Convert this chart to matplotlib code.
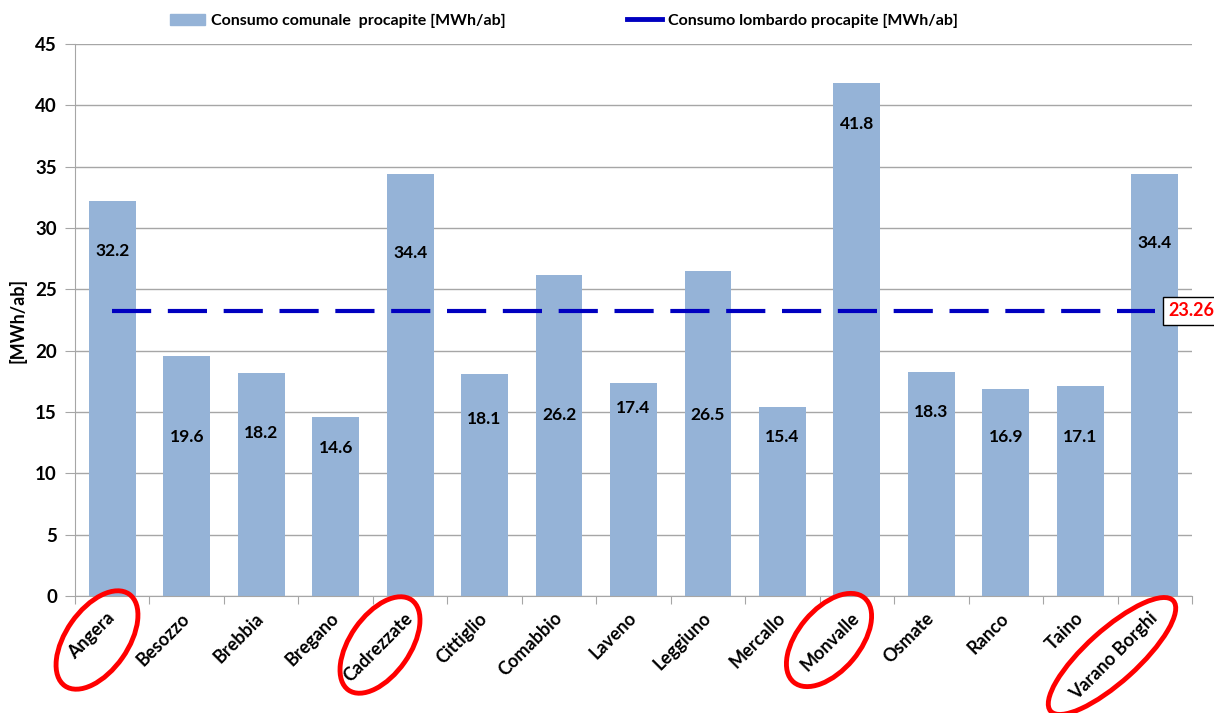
import matplotlib.pyplot as plt
from matplotlib.patches import Ellipse, Patch
from matplotlib.lines import Line2D

plt.rcParams['font.family'] = ['Lato', 'DejaVu Sans']
plt.rcParams['font.weight'] = 'bold'

# Data
comuni = ['Angera', 'Besozzo', 'Brebbia', 'Bregano', 'Cadrezzate', 'Cittiglio',
          'Comabbio', 'Laveno', 'Leggiuno', 'Mercallo', 'Monvalle', 'Osmate',
          'Ranco', 'Taino', 'Varano Borghi']
consumo = [32.2, 19.6, 18.2, 14.6, 34.4, 18.1, 26.2, 17.4, 26.5, 15.4, 41.8,
           18.3, 16.9, 17.1, 34.4]
lombardia = 23.26
# heights where the value labels sit inside the bars
label_y = [28.1, 13.0, 13.3, 12.1, 28.0, 14.4, 14.75, 15.3, 14.75, 13.0, 38.5,
           15.0, 13.0, 13.0, 28.8]
evidenziati = ['Angera', 'Cadrezzate', 'Monvalle', 'Varano Borghi']

bar_color = '#95B3D7'
line_color = '#0000C0'
grid_color = '#A6A6A6'

fig = plt.figure(figsize=(12.14, 7.13), dpi=100)
ax = fig.add_axes([75 / 1214, 1 - 596 / 713, (1192 - 75) / 1214, (596 - 44) / 713])

x = list(range(len(comuni)))
ax.bar(x, consumo, width=0.63, color=bar_color, zorder=2)
ax.plot(x, [lombardia] * len(x), color=line_color, lw=3,
        linestyle=(0, (9.4, 4)), solid_capstyle='butt', zorder=3)

for xi, v, ly in zip(x, consumo, label_y):
    ax.text(xi, ly, f'{v:.1f}', ha='center', va='center', fontsize=12.5,
            fontweight='bold', color='black', zorder=4)

ax.annotate(f'{lombardia:.2f}', xy=(x[-1], lombardia), xytext=(14, 0),
            textcoords='offset pixels', ha='left', va='center', color='red',
            fontsize=13, fontweight='bold', annotation_clip=False,
            bbox=dict(boxstyle='square,pad=0.3', fc='white', ec='black', lw=1))

ax.set_xlim(-0.5, len(comuni) - 0.5)
ax.set_ylim(0, 45)
ax.set_yticks(range(0, 46, 5))
ax.tick_params(axis='y', labelsize=13.5, length=7, color=grid_color, pad=6)
ax.yaxis.grid(True, color=grid_color, lw=1, zorder=0)
ax.set_axisbelow(True)

# ticks between categories, labels at the centres
ax.set_xticks([i - 0.5 for i in range(len(comuni) + 1)])
ax.set_xticklabels([])
ax.tick_params(axis='x', which='major', length=6, color=grid_color)
ax.set_xticks(x, minor=True)
ax.set_xticklabels(comuni, minor=True, rotation=45, ha='right', va='center',
                   rotation_mode='anchor', fontsize=13)
ax.tick_params(axis='x', which='minor', length=0, pad=14)

for s in ['top', 'right']:
    ax.spines[s].set_visible(False)
for s in ['left', 'bottom']:
    ax.spines[s].set_color(grid_color)

ax.set_ylabel('[MWh/ab]', fontsize=13, fontweight='bold', labelpad=6)

handles = [Patch(color=bar_color),
           Line2D([0], [0], color=line_color, lw=3.5)]
fig.legend(handles, ['Consumo comunale  procapite [MWh/ab]',
                     'Consumo lombardo procapite [MWh/ab]'],
           loc='center', bbox_to_anchor=(564 / 1214, 1 - 21 / 713), ncol=2,
           frameon=False, fontsize=11.5, handlelength=2.2, handleheight=0.7,
           columnspacing=7.6, handletextpad=0.35)

# red ellipses drawn around highlighted names (figure pixel coordinates)
ellissi = {'Angera': (97, 640, 112, 62, 55),
           'Cadrezzate': (380, 645, 110, 60, 55),
           'Monvalle': (829, 640, 110, 62, 50),
           'Varano Borghi': (1112, 656, 165, 52, 42)}
for nome in evidenziati:
    cx, cy, w, h, ang = ellissi[nome]
    e = Ellipse((cx / 100, (713 - cy) / 100), w / 100, h / 100, angle=ang,
                transform=fig.dpi_scale_trans, fill=False, ec='red', lw=3.5)
    fig.add_artist(e)

fig.savefig('out.png', dpi=100)
